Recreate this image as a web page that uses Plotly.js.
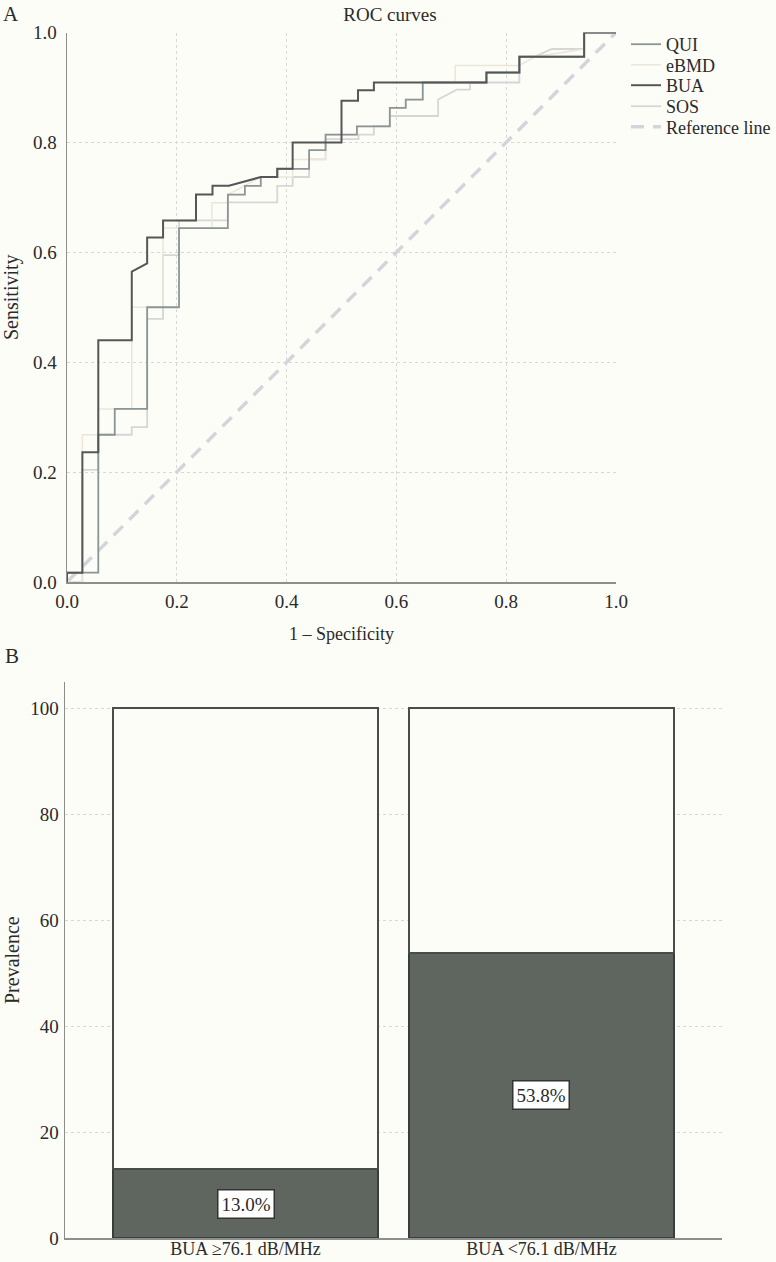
<!DOCTYPE html>
<html>
<head>
<meta charset="utf-8">
<script src="https://cdn.plot.ly/plotly-3.0.1.min.js"></script>
<style>
html,body{margin:0;padding:0;background:#fdfdf8;}
#chart{width:776px;height:1262px;}
</style>
</head>
<body>
<div id="chart"></div>
<script>
// ---------- Panel A: ROC curves (1 - specificity, sensitivity) ----------
const quiX = [0,0,0.057,0.057,0.087,0.087,0.146,0.146,0.204,0.204,0.293,0.293,0.324,0.324,0.353,0.353,0.383,0.383,0.441,0.441,0.471,0.471,0.528,0.528,0.588,0.588,0.617,0.617,0.648,0.648,0.764,0.764,0.824,0.824,0.942,0.942,1];
const quiY = [0,0.017,0.017,0.268,0.268,0.315,0.315,0.50,0.50,0.644,0.644,0.705,0.705,0.721,0.721,0.737,0.737,0.752,0.752,0.786,0.786,0.814,0.814,0.829,0.829,0.863,0.863,0.878,0.878,0.909,0.909,0.927,0.927,0.956,0.956,1,1];

const ebmdX = [0,0.028,0.028,0.057,0.057,0.118,0.118,0.175,0.175,0.264,0.264,0.293,0.293,0.353,0.411,0.411,0.471,0.471,0.528,0.528,0.588,0.588,0.617,0.617,0.648,0.648,0.707,0.707,0.824,0.853,0.942,0.942,1];
const ebmdY = [0,0,0.268,0.268,0.315,0.315,0.50,0.50,0.644,0.644,0.69,0.69,0.705,0.737,0.737,0.769,0.769,0.814,0.814,0.829,0.829,0.863,0.863,0.878,0.878,0.909,0.909,0.94,0.94,0.956,0.97,1,1];

const buaX = [0,0,0.028,0.028,0.057,0.057,0.118,0.118,0.146,0.146,0.175,0.175,0.235,0.235,0.265,0.265,0.295,0.353,0.383,0.383,0.411,0.411,0.5,0.5,0.53,0.53,0.559,0.559,0.764,0.764,0.824,0.824,0.942,0.942,1];
const buaY = [0,0.017,0.017,0.236,0.236,0.44,0.44,0.565,0.58,0.627,0.627,0.658,0.658,0.705,0.705,0.721,0.721,0.737,0.737,0.752,0.752,0.80,0.80,0.876,0.876,0.895,0.895,0.909,0.909,0.927,0.927,0.956,0.956,1,1];

const sosX = [0,0.028,0.028,0.057,0.057,0.118,0.118,0.146,0.146,0.175,0.175,0.204,0.204,0.293,0.293,0.383,0.383,0.411,0.411,0.441,0.441,0.471,0.471,0.531,0.531,0.559,0.559,0.588,0.588,0.676,0.676,0.71,0.734,0.734,0.824,0.824,0.853,0.883,0.942,0.942,1];
const sosY = [0,0,0.204,0.204,0.268,0.268,0.282,0.282,0.479,0.479,0.595,0.595,0.658,0.658,0.691,0.691,0.721,0.721,0.737,0.737,0.769,0.769,0.806,0.806,0.814,0.814,0.83,0.83,0.848,0.848,0.878,0.896,0.896,0.909,0.909,0.956,0.956,0.97,0.97,1,1];

const refX = [0,1];
const refY = [0,1];

const rocTicks = [0,0.2,0.4,0.6,0.8,1.0];

// ---------- Panel B: prevalence by BUA group ----------
const groups = ["BUA \u226576.1 dB/MHz", "BUA <76.1 dB/MHz"];
const prevalence = [13.0, 53.8];
const remainder = [87.0, 46.2];
const prevLabels = ["13.0%", "53.8%"];

const BG = "#fdfdf8";
const INK = "#2a2a2a";
const FONT = "Liberation Serif, Times New Roman, serif";
const W = 776, H = 1262;
const py = p => 1 - p / H;   // pixel row -> paper fraction
const px = p => p / W;

const rocLine = (x, y, name, line, legendId) => ({
  type: "scatter", mode: "lines", x: x, y: y, name: name,
  xaxis: "x", yaxis: "y", legend: legendId,
  line: line, hoverinfo: "skip"
});

const traces = [
  rocLine(refX, refY, "Reference line", {color: "#d3d5da", width: 3.5, dash: "13px,9px"}, "legend5"),
  rocLine(sosX, sosY, "SOS", {color: "#d6d6d6", width: 1.8}, "legend4"),
  rocLine(ebmdX, ebmdY, "eBMD", {color: "#ece6d8", width: 1.5}, "legend2"),
  rocLine(quiX, quiY, "QUI", {color: "#8b9595", width: 1.8}, "legend"),
  rocLine(buaX, buaY, "BUA", {color: "#555757", width: 2}, "legend3"),
  {
    type: "bar", x: [0, 1], y: prevalence, xaxis: "x2", yaxis: "y2",
    width: 0.895, showlegend: false, hoverinfo: "skip",
    marker: {color: "#5f6660", line: {color: "#3a3d3b", width: 1.5}}
  },
  {
    type: "bar", x: [0, 1], y: remainder, xaxis: "x2", yaxis: "y2",
    width: 0.895, showlegend: false, hoverinfo: "skip",
    marker: {color: BG, line: {color: "#4a4c4b", width: 1.5}}
  }
];

const gridStyle = {showgrid: true, gridcolor: "#d8d8d8", gridwidth: 1, griddash: "3px,3px"};

const legendAt = (centerPx) => ({
  x: px(626), y: py(centerPx - 18), xanchor: "left", yanchor: "top",
  bgcolor: "rgba(0,0,0,0)", font: {family: FONT, size: 18, color: INK}
});

const layout = {
  width: W, height: H,
  paper_bgcolor: BG, plot_bgcolor: BG,
  margin: {l: 0, r: 0, t: 0, b: 0, autoexpand: false},
  font: {family: FONT, size: 19, color: INK},
  barmode: "stack",
  showlegend: true,
  legend: legendAt(44),
  legend2: legendAt(64.5),
  legend3: legendAt(85),
  legend4: legendAt(106),
  legend5: legendAt(126.5),
  title: {
    text: "ROC curves", x: px(390), xanchor: "center",
    y: py(14), yanchor: "middle", yref: "container", xref: "container",
    font: {family: FONT, size: 19, color: INK}
  },
  xaxis: Object.assign({
    domain: [px(67), px(616)], range: [0, 1], anchor: "y",
    tickvals: rocTicks, tickformat: ".1f", ticks: "outside", ticklen: 2, tickcolor: BG,
    showline: true, linecolor: "#8d8f8f", linewidth: 1.5, zeroline: false,
    automargin: false, fixedrange: true
  }, gridStyle),
  yaxis: Object.assign({
    domain: [py(582), py(32.5)], range: [0, 1], anchor: "x",
    tickvals: rocTicks, tickformat: ".1f", ticks: "outside", ticklen: 5, tickcolor: BG,
    showline: true, linecolor: "#8d8f8f", linewidth: 1.5, zeroline: false,
    automargin: false, fixedrange: true
  }, gridStyle),
  xaxis2: {
    domain: [px(65), px(722)], range: [-0.61, 1.61], anchor: "y2",
    tickvals: [0, 1], ticktext: groups, ticks: "", tickfont: {size: 18},
    ticklabelstandoff: -6,
    showgrid: false, showline: true, linecolor: "#8d8f8f", linewidth: 1.5, zeroline: false,
    automargin: false, fixedrange: true
  },
  yaxis2: Object.assign({
    domain: [py(1238), py(681.5)], range: [0, 105], anchor: "x2",
    tickvals: [0, 20, 40, 60, 80, 100], ticks: "outside", ticklen: 1, tickcolor: BG,
    showline: true, linecolor: "#8d8f8f", linewidth: 1.5, zeroline: false,
    automargin: false, fixedrange: true
  }, gridStyle),
  annotations: [
    {text: "A", xref: "paper", yref: "paper", x: px(1), y: py(14), xanchor: "left", yanchor: "middle", showarrow: false, font: {size: 21}},
    {text: "B", xref: "paper", yref: "paper", x: px(3), y: py(656), xanchor: "left", yanchor: "middle", showarrow: false, font: {size: 21}},
    {text: "Sensitivity", xref: "paper", yref: "paper", x: px(12), y: py(297), textangle: -90, xanchor: "center", yanchor: "middle", showarrow: false, font: {size: 20}},
    {text: "1 \u2013 Specificity", xref: "paper", yref: "paper", x: px(341), y: py(634), xanchor: "center", yanchor: "middle", showarrow: false, font: {size: 18}},
    {text: "Prevalence", xref: "paper", yref: "paper", x: px(12), y: py(960), textangle: -90, xanchor: "center", yanchor: "middle", showarrow: false, font: {size: 20}},
    {text: prevLabels[0], xref: "x2", yref: "y2", x: 0, y: prevalence[0] / 2, showarrow: false,
     bgcolor: "#ffffff", bordercolor: "#333333", borderwidth: 1.5, borderpad: 3, font: {size: 19, color: INK}},
    {text: prevLabels[1], xref: "x2", yref: "y2", x: 1, y: prevalence[1] / 2, showarrow: false,
     bgcolor: "#ffffff", bordercolor: "#333333", borderwidth: 1.5, borderpad: 3, font: {size: 19, color: INK}}
  ]
};

Plotly.newPlot("chart", traces, layout, {displayModeBar: false, staticPlot: true});
</script>
</body>
</html>
